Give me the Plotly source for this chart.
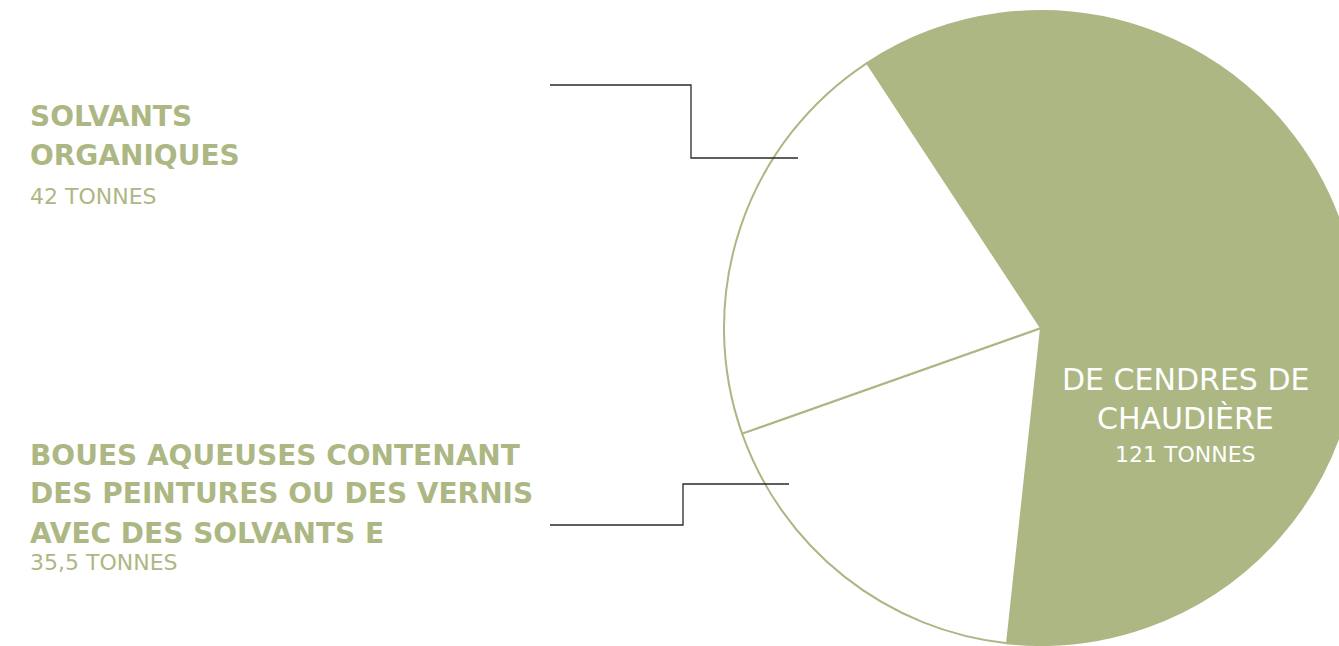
import plotly.graph_objects as go

# slice data (tonnes)
labels = ["DE CENDRES DE CHAUDIÈRE",
          "BOUES AQUEUSES CONTENANT DES PEINTURES OU DES VERNIS AVEC DES SOLVANTS E",
          "SOLVANTS ORGANIQUES"]
values = [121, 35.5, 42]
value_text = ["121 TONNES", "35,5 TONNES", "42 TONNES"]
slice_colors = ["#adb783", "#ffffff", "#ffffff"]

# label lines as they are broken in the picture
title_lines = [
    ["DE CENDRES DE", "CHAUDIÈRE"],
    ["BOUES AQUEUSES CONTENANT", "DES PEINTURES OU DES VERNIS", "AVEC DES SOLVANTS E"],
    ["SOLVANTS", "ORGANIQUES"],
]

GREEN = "#adb783"
FONT = "DejaVu Sans, sans-serif"
W, H = 1358, 646


def px(x):
    return x / W


def py(y):
    return 1 - y / H


fig = go.Figure(
    go.Pie(
        labels=labels,
        values=values,
        sort=False,
        direction="clockwise",
        rotation=-33.3,
        marker=dict(colors=slice_colors, line=dict(color=GREEN, width=2)),
        textinfo="none",
        hoverinfo="label+value",
        showlegend=False,
        domain=dict(x=[px(724), 1], y=[py(645), py(11)]),
    )
)

# label blocks: (slice index, x, anchor, colour, title line centres, value centre)
blocks = [
    (2, 28, "left", GREEN, [117, 155], 197),
    (1, 28, "left", GREEN, [455, 494, 533], 562),
    (0, 1185, "center", "white", [379, 418], 454),
]
for idx, x, anchor, color, ys, yv in blocks:
    if color == "white":
        heading = dict(size=30, color=color, family=FONT, weight=400)
    else:
        heading = dict(size=28, color=color, family=FONT, weight=700)
    for line, y in zip(title_lines[idx], ys):
        fig.add_annotation(x=px(x), y=py(y), text=line, xanchor=anchor,
                           yanchor="middle", showarrow=False, font=heading)
    fig.add_annotation(x=px(x), y=py(yv), text=value_text[idx], xanchor=anchor,
                       yanchor="middle", showarrow=False,
                       font=dict(size=22, color=color, family=FONT))

# leader lines
leaders = [
    [(550, 85), (691, 85), (691, 158), (798, 158)],
    [(550, 525), (683, 525), (683, 484), (789, 484)],
]
for pts in leaders:
    path = "M " + " L ".join(f"{px(x)},{py(y)}" for x, y in pts)
    fig.add_shape(type="path", path=path, xref="paper", yref="paper",
                  line=dict(color="#2a2a2a", width=1.3))

fig.update_layout(
    width=W,
    height=H,
    margin=dict(l=0, r=0, t=0, b=0),
    paper_bgcolor="white",
    plot_bgcolor="white",
)

# the pie runs off the right edge of the page, as in the picture
fig.write_html(
    "out.html",
    config={"displayModeBar": False},
    post_script="document.body.style.margin='0';document.body.style.overflow='hidden';",
)
